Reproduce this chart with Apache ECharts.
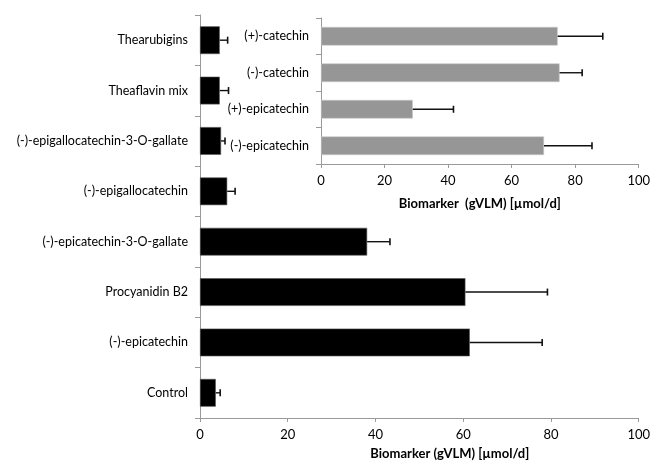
<!DOCTYPE html>
<html>
<head>
<meta charset="utf-8">
<script src="https://cdn.jsdelivr.net/npm/echarts@6/dist/echarts.min.js"></script>
<style>html,body{margin:0;padding:0;background:#fff}#c{width:653px;height:465px}</style>
</head>
<body>
<div id="c"></div>
<script>
const mainCategories = ['Thearubigins','Theaflavin mix','(-)-epigallocatechin-3-O-gallate','(-)-epigallocatechin','(-)-epicatechin-3-O-gallate','Procyanidin B2','(-)-epicatechin','Control'];
const mainValues = [4.5, 4.5, 4.8, 6.2, 38.1, 60.5, 61.5, 3.6];
const mainErrors = [1.8, 2.0, 0.9, 1.8, 5.2, 18.7, 16.5, 1.0];

const insetCategories = ['(+)-catechin','(-)-catechin','(+)-epicatechin','(-)-epicatechin'];
const insetValues = [74.5, 75.1, 28.9, 70.2];
const insetErrors = [14.2, 7.1, 12.8, 15.1];

const xTicks = [0, 20, 40, 60, 80, 100];
const mainTitle = 'Biomarker (gVLM) [µmol/d]';
const insetTitle = 'Biomarker  (gVLM) [µmol/d]';

const FONT = 'Lato';
const AX = '#9a9a9a';

function errData(vals, errs) {
  return vals.map((v, i) => [i, v, v + errs[i]]);
}
function errRender(params, api) {
  const i = api.value(0);
  const p0 = api.coord([api.value(1), i]);
  const p1 = api.coord([api.value(2), i]);
  const h = 3.5;
  return {
    type: 'group',
    children: [
      { type: 'line', shape: { x1: p0[0], y1: p0[1], x2: p1[0], y2: p1[1] }, style: { stroke: '#111', lineWidth: 1.4 } },
      { type: 'line', shape: { x1: p1[0], y1: p1[1] - h, x2: p1[0], y2: p1[1] + h }, style: { stroke: '#111', lineWidth: 1.6 } }
    ]
  };
}
function xAxisCfg(gridIndex, name, gap, padLeft) {
  return {
    gridIndex, type: 'value', min: xTicks[0], max: xTicks[xTicks.length - 1], interval: xTicks[1] - xTicks[0],
    splitLine: { show: false },
    axisLine: { show: true, lineStyle: { color: AX, width: 1 } },
    axisTick: { show: true, length: 4, lineStyle: { color: AX } },
    axisLabel: { color: '#000', fontFamily: FONT, fontSize: 13, margin: 10 },
    name, nameLocation: 'middle', nameGap: gap,
    nameTextStyle: { color: '#000', fontFamily: FONT, fontSize: 13, fontWeight: 'bold', padding: [0, 0, 0, padLeft] }
  };
}
function yAxisCfg(gridIndex, cats) {
  return {
    gridIndex, type: 'category', data: cats, inverse: true,
    axisLine: { show: true, lineStyle: { color: AX, width: 1 } },
    axisTick: { show: true, length: 5, lineStyle: { color: AX } },
    axisLabel: { color: '#000', fontFamily: FONT, fontSize: 12.5, margin: 12 }
  };
}

const chart = echarts.init(document.getElementById('c'), null, { renderer: 'canvas' });
chart.setOption({
  animation: false,
  backgroundColor: '#fff',
  grid: [
    { left: 200, right: 10, top: 15, bottom: 44 },
    { left: 321, right: 10, top: 18, bottom: 301 }
  ],
  xAxis: [
    xAxisCfg(0, mainTitle, 29, 61),
    xAxisCfg(1, insetTitle, 33, 0)
  ],
  yAxis: [
    yAxisCfg(0, mainCategories),
    yAxisCfg(1, insetCategories)
  ],
  series: [
    { type: 'bar', xAxisIndex: 0, yAxisIndex: 0, data: mainValues, barWidth: '55%',
      itemStyle: { color: '#000', borderColor: '#555', borderWidth: 0.6 } },
    { type: 'custom', xAxisIndex: 0, yAxisIndex: 0, data: errData(mainValues, mainErrors),
      encode: { x: [1, 2], y: 0 }, renderItem: errRender, z: 5 },
    { type: 'bar', xAxisIndex: 1, yAxisIndex: 1, data: insetValues, barWidth: '51%',
      itemStyle: { color: '#969696', borderColor: '#c8c8c8', borderWidth: 0.6 } },
    { type: 'custom', xAxisIndex: 1, yAxisIndex: 1, data: errData(insetValues, insetErrors),
      encode: { x: [1, 2], y: 0 }, renderItem: errRender, z: 5 }
  ]
});
</script>
</body>
</html>
